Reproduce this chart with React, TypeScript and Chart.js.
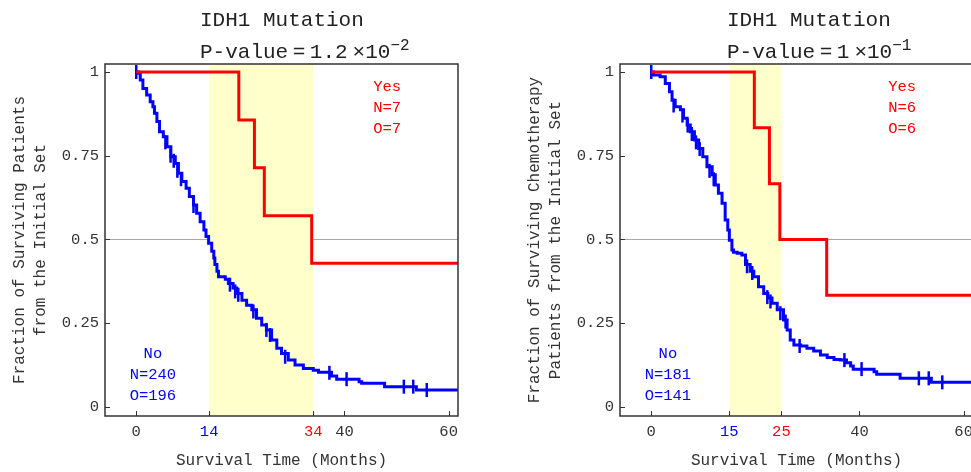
import React, { useEffect, useRef } from 'react';
import { Chart, registerables } from 'chart.js';

Chart.register(...registerables);

const FONT = '"Liberation Mono", "Courier New", Courier, monospace';

// ---------- shared ----------
const yTicks = [0, 0.25, 0.5, 0.75, 1];

// ---------- left panel (all patients) ----------
const leftNoTimes = [0, 0.45, 0.77, 1.28, 2.0, 2.68, 3.2, 3.5, 3.97, 4.47, 5.2, 5.9, 6.65, 7.5, 8.1, 8.76, 9.58, 10.2, 11.0, 11.6, 12.27, 13.0, 13.4, 13.9, 14.5, 14.9, 15.1, 15.5, 15.8, 17.1, 17.7, 18.6, 19.3, 20.3, 21.2, 22.2, 23.1, 24.1, 25.0, 26.0, 27.0, 27.9, 29.2, 30.5, 32.1, 34.0, 35.0, 37.5, 38.5, 42.8, 43.3, 47.7, 53.8, 62];
const leftNoSurv = [1, 0.996, 0.976, 0.951, 0.931, 0.911, 0.896, 0.877, 0.852, 0.822, 0.807, 0.777, 0.747, 0.727, 0.698, 0.673, 0.653, 0.628, 0.603, 0.578, 0.553, 0.528, 0.509, 0.489, 0.465, 0.445, 0.425, 0.405, 0.389, 0.381, 0.369, 0.355, 0.339, 0.319, 0.304, 0.29, 0.265, 0.245, 0.23, 0.2, 0.175, 0.16, 0.14, 0.125, 0.115, 0.11, 0.104, 0.0925, 0.083, 0.0755, 0.0707, 0.0607, 0.0507, 0.0507];
const leftNoCensorTimes = [0, 5.6, 6.6, 7.2, 7.9, 8.6, 11.0, 18.0, 19.0, 19.6, 22.5, 25.0, 25.7, 28.6, 37.1, 40.4, 51.4, 53.2, 55.8];
const leftNoCensorSurv = [1, 0.79, 0.75, 0.735, 0.705, 0.68, 0.6, 0.365, 0.345, 0.335, 0.285, 0.23, 0.215, 0.15, 0.102, 0.083, 0.0607, 0.0607, 0.0507];
const leftYesTimes = [0, 19.7, 22.7, 24.6, 33.7, 62];
const leftYesSurv = [1, 0.857, 0.714, 0.571, 0.429, 0.429];
const leftXTicks = [0, 14, 34, 40, 60];
const leftBand = [14, 34];
const leftYTitle = ['Fraction of Surviving Patients', 'from the Initial Set'];
const leftPValue = ['1.2', '\u22122'];
const leftYesLegend = ['Yes', 'N=7', 'O=7'];
const leftNoLegend = ['No', 'N=240', 'O=196'];

// ---------- right panel (chemotherapy patients) ----------
const rightNoTimes = [0, 0.45, 1.7, 2.7, 3.5, 4.0, 4.6, 5.6, 6.2, 6.9, 7.5, 8.3, 9.1, 9.9, 10.7, 11.7, 12.3, 12.9, 13.6, 14.2, 14.7, 15.0, 15.5, 15.8, 16.5, 17.4, 18.1, 19.0, 19.7, 20.6, 21.6, 22.4, 23.2, 24.2, 25.4, 26.1, 26.7, 27.4, 28.7, 29.9, 31.2, 32.5, 33.8, 35.1, 36.3, 37.5, 38.3, 38.8, 42.8, 43.3, 47.8, 53.8, 62];
const rightNoSurv = [1, 0.991, 0.986, 0.966, 0.941, 0.916, 0.896, 0.887, 0.862, 0.842, 0.822, 0.797, 0.772, 0.747, 0.717, 0.693, 0.663, 0.638, 0.608, 0.558, 0.528, 0.498, 0.469, 0.462, 0.459, 0.454, 0.425, 0.405, 0.389, 0.359, 0.339, 0.325, 0.31, 0.29, 0.26, 0.23, 0.2, 0.185, 0.182, 0.175, 0.167, 0.155, 0.148, 0.142, 0.14, 0.132, 0.122, 0.113, 0.105, 0.0975, 0.0856, 0.0736, 0.0736];
const rightNoCensorTimes = [0, 4.3, 6.0, 7.0, 7.8, 8.6, 9.3, 11.2, 12.0, 18.4, 19.4, 22.3, 22.9, 24.8, 25.8, 28.5, 37.1, 40.4, 51.4, 53.3, 55.9];
const rightNoCensorSurv = [1, 0.9, 0.87, 0.84, 0.815, 0.79, 0.77, 0.705, 0.68, 0.42, 0.4, 0.328, 0.315, 0.28, 0.255, 0.182, 0.14, 0.113, 0.0856, 0.0856, 0.0736];
const rightYesTimes = [0, 19.8, 22.7, 24.7, 33.7, 62];
const rightYesSurv = [1, 0.8333, 0.6667, 0.5, 0.3333, 0.3333];
const rightXTicks = [0, 15, 25, 40, 60];
const rightBand = [15, 25];
const rightYTitle = ['Fraction of Surviving Chemotherapy', 'Patients from the Initial Set'];
const rightPValue = ['1', '\u22121'];
const rightYesLegend = ['Yes', 'N=6', 'O=6'];
const rightNoLegend = ['No', 'N=181', 'O=141'];

type PanelCfg = {
  noT: number[]; noS: number[]; cT: number[]; cS: number[];
  yesT: number[]; yesS: number[]; xTicks: number[]; band: number[];
  yTitle: string[]; pValue: string[]; yesLegend: string[]; noLegend: string[];
  titleX: number;
};

const leftCfg: PanelCfg = {
  noT: leftNoTimes, noS: leftNoSurv, cT: leftNoCensorTimes, cS: leftNoCensorSurv,
  yesT: leftYesTimes, yesS: leftYesSurv, xTicks: leftXTicks, band: leftBand,
  yTitle: leftYTitle, pValue: leftPValue, yesLegend: leftYesLegend, noLegend: leftNoLegend,
  titleX: 200,
};
const rightCfg: PanelCfg = {
  noT: rightNoTimes, noS: rightNoSurv, cT: rightNoCensorTimes, cS: rightNoCensorSurv,
  yesT: rightYesTimes, yesS: rightYesSurv, xTicks: rightXTicks, band: rightBand,
  yTitle: rightYTitle, pValue: rightPValue, yesLegend: rightYesLegend, noLegend: rightNoLegend,
  titleX: 212,
};

const zip = (xs: number[], ys: number[]) => xs.map((x, i) => ({ x, y: ys[i] }));

const RED = '#ff0000';
const BLUE = '#0000ff';
const TXT = '#333333';

function decoPlugin(p: PanelCfg) {
  return {
    id: 'panelDeco',
    beforeDatasetsDraw(chart: any) {
      const { ctx, chartArea: a, scales } = chart;
      const x = scales.x, y = scales.y;
      ctx.save();
      ctx.fillStyle = '#ffffcc';
      const x0 = x.getPixelForValue(p.band[0]);
      const x1 = x.getPixelForValue(p.band[1]);
      ctx.fillRect(x0, a.top, x1 - x0, a.bottom - a.top);
      ctx.strokeStyle = TXT;
      ctx.lineWidth = 1;
      ctx.beginPath();
      for (const v of yTicks) {
        const py = Math.round(y.getPixelForValue(v)) + 0.5;
        ctx.moveTo(a.left, py);
        ctx.lineTo(a.left + 5, py);
      }
      for (const v of p.xTicks) {
        const px = Math.round(x.getPixelForValue(v)) + 0.5;
        ctx.moveTo(px, a.bottom);
        ctx.lineTo(px, a.bottom - 5);
      }
      ctx.stroke();
      ctx.restore();
    },
    afterDatasetsDraw(chart: any) {
      const { ctx, chartArea: a, scales } = chart;
      const x = scales.x, y = scales.y;
      ctx.save();
      ctx.strokeStyle = '#333';
      ctx.lineWidth = 1.5;
      ctx.strokeRect(a.left, a.top, a.right - a.left, a.bottom - a.top);
      // legends
      ctx.font = `15.5px ${FONT}`;
      ctx.textAlign = 'center';
      ctx.textBaseline = 'alphabetic';
      ctx.fillStyle = RED;
      const yx = x.getPixelForValue(48.2);
      p.yesLegend.forEach((s, i) => ctx.fillText(s, yx, 91 + 21 * i));
      ctx.fillStyle = BLUE;
      const nx = x.getPixelForValue(3.2);
      p.noLegend.forEach((s, i) => ctx.fillText(s, nx, 358 + 21 * i));
      // titles
      ctx.fillStyle = '#222';
      ctx.textAlign = 'left';
      ctx.font = `21px ${FONT}`;
      ctx.fillText('IDH1 Mutation', p.titleX, 26);
      let cx = p.titleX;
      const put = (s: string, font: string, base: number, gap: number) => {
        ctx.font = font;
        ctx.fillText(s, cx, base);
        cx += ctx.measureText(s).width + gap;
      };
      put('P-value', `21px ${FONT}`, 58, 4.5);
      put('=', `21px ${FONT}`, 58, 4.5);
      put(p.pValue[0], `21px ${FONT}`, 58, 5);
      put('\u00d7', `21px ${FONT}`, 58, 0);
      put('10', `21px ${FONT}`, 58, 0);
      put(p.pValue[1], `16px ${FONT}`, 50, 0);
      ctx.restore();
    },
  };
}

function buildConfig(p: PanelCfg): any {
  const tickColor = (c: any) => {
    const v = c.tick ? c.tick.value : null;
    if (v === p.band[0]) return BLUE;
    if (v === p.band[1]) return RED;
    return TXT;
  };
  return {
    type: 'line',
    data: {
      datasets: [
        {
          label: 'Yes', data: zip(p.yesT, p.yesS), stepped: 'before',
          borderColor: RED, borderWidth: 3, pointRadius: 0, fill: false, order: 0,
          borderJoinStyle: 'miter', borderCapStyle: 'butt',
        },
        {
          type: 'scatter', label: 'No (censored)', data: zip(p.cT, p.cS), showLine: false,
          pointStyle: 'line', rotation: 90, pointRadius: 7, pointHoverRadius: 7,
          borderColor: BLUE, backgroundColor: BLUE, borderWidth: 2.5, order: 1,
        },
        {
          label: 'No', data: zip(p.noT, p.noS), stepped: 'before',
          borderColor: BLUE, borderWidth: 3, pointRadius: 0, fill: false, order: 2,
          borderJoinStyle: 'miter', borderCapStyle: 'butt',
        },
      ],
    },
    options: {
      responsive: false,
      animation: false,
      devicePixelRatio: 1,
      events: [],
      layout: { padding: { top: 64, right: 57, left: 0, bottom: 0 } },
      plugins: { legend: { display: false }, tooltip: { enabled: false }, title: { display: false } },
      scales: {
        x: {
          type: 'linear', min: -6, max: 61.8,
          afterBuildTicks: (s: any) => { s.ticks = p.xTicks.map((v) => ({ value: v })); },
          afterFit: (s: any) => { s.height = 56; },
          grid: { display: false, drawTicks: false },
          border: { display: false },
          ticks: {
            autoSkip: false, maxRotation: 0, minRotation: 0, padding: 7,
            font: { family: FONT, size: 15.5, lineHeight: 1.2 }, color: tickColor,
            callback: (v: any) => String(v),
          },
          title: {
            display: true, text: 'Survival Time (Months)', color: TXT,
            font: { family: FONT, size: 16, lineHeight: 1.2 }, padding: { top: 0, bottom: 1.5 },
          },
        },
        y: {
          type: 'linear', min: -0.0269, max: 1.0239,
          afterBuildTicks: (s: any) => { s.ticks = yTicks.map((v) => ({ value: v })); },
          afterFit: (s: any) => { s.width = 105; },
          grid: {
            drawTicks: false, lineWidth: 1,
            color: (c: any) => (c.tick && c.tick.value === 0.5 ? '#a8a8a8' : 'rgba(0,0,0,0)'),
          },
          border: { display: false },
          ticks: {
            padding: 6, font: { family: FONT, size: 15.5 }, color: TXT,
            callback: (v: any) => String(v),
          },
          title: {
            display: true, text: p.yTitle, color: TXT,
            font: { family: FONT, size: 16, lineHeight: 1.3125 }, padding: { top: 9.5, bottom: 0 },
          },
        },
      },
    },
    plugins: [decoPlugin(p)],
  };
}

function Panel({ cfg, left }: { cfg: PanelCfg; left: number }) {
  const ref = useRef<HTMLCanvasElement>(null);
  useEffect(() => {
    const chart = new Chart(ref.current as HTMLCanvasElement, buildConfig(cfg));
    return () => chart.destroy();
  }, [cfg]);
  return (
    <canvas
      ref={ref}
      width={515}
      height={472}
      style={{ position: 'absolute', left, top: 0, width: 515, height: 472 }}
    />
  );
}

export default function App() {
  return (
    <div
      style={{
        position: 'fixed', left: 0, top: 0, width: 971, height: 472,
        overflow: 'hidden', background: '#ffffff',
      }}
    >
      <Panel cfg={leftCfg} left={0} />
      <Panel cfg={rightCfg} left={515} />
    </div>
  );
}
